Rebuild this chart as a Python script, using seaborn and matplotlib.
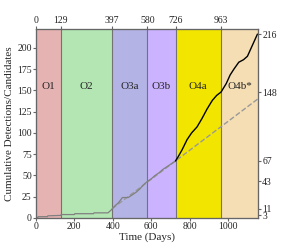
import matplotlib
matplotlib.use("Agg")
import matplotlib.pyplot as plt
import seaborn as sns
import pandas as pd
import numpy as np

sns.set_style("ticks")
plt.rcParams['font.family'] = ['Liberation Serif', 'DejaVu Serif']
plt.rcParams['mathtext.fontset'] = 'stix'

# observing runs
run_names = ["O1", "O2", "O3a", "O3b", "O4a", "O4b*"]
run_edges = [0, 129, 397, 580, 726, 963, 1155]
run_colors = ["#e6b3b3", "#b3e6b3", "#b3b3e6", "#cbb3ff", "#f2e600", "#f5deb3"]

# cumulative detections O1-O3 (grey)
early_days = [0, 10, 12, 60, 62, 129, 132, 200, 202, 300, 302, 375, 390, 410, 430,
              450, 465, 480, 500, 520, 540, 560, 580, 600, 620, 640, 660, 680, 700, 726]
early_counts = [0.5, 0.5, 1.5, 1.5, 2.5, 3, 4, 4, 5, 5, 6, 6, 9, 14, 18,
                24, 24, 24, 27, 30, 34, 39, 43, 46, 50, 53, 57, 60, 63, 67]

# cumulative candidates O4 (black)
late_days = [726, 740, 760, 786, 810, 838, 864, 890, 917, 940, 963,
             990, 1010, 1030, 1055, 1080, 1100, 1120, 1140, 1152]
late_counts = [67, 72, 80, 92, 100, 107, 117, 128, 138, 144, 148,
               158, 168, 175, 183, 186, 190, 200, 210, 216]

# linear extrapolation of O3 rate (dashed)
trend_days = [397, 726, 1155]
trend_counts = [11, 67, 140]

right_ticks = [3, 11, 43, 67, 148, 216]

fig, ax = plt.subplots(figsize=(2.87, 2.46), dpi=100)
fig.subplots_adjust(left=0.125, right=0.899, bottom=0.114, top=0.882)

for i, name in enumerate(run_names):
    ax.axvspan(run_edges[i], run_edges[i + 1], color=run_colors[i], lw=0)
    ax.text((run_edges[i] + run_edges[i + 1]) / 2, 155, name,
            ha='center', va='center', fontsize=8)
for e in run_edges[1:-1]:
    ax.axvline(e, color='0.45', lw=0.8)

sns.lineplot(x=trend_days, y=trend_counts, ax=ax, color='0.6', ls='--', lw=1)
sns.lineplot(x=early_days, y=early_counts, ax=ax, color='0.5', lw=0.9)
sns.lineplot(x=late_days, y=late_counts, ax=ax, color='black', lw=1)

ax.set_xlim(0, 1155)
ax.set_ylim(0, 222)
ax.set_yticks([0, 25, 50, 75, 100, 125, 150, 175, 200])
ax.set_xticks([0, 200, 400, 600, 800, 1000])
ax.set_xlabel("Time (Days)", fontsize=8, labelpad=1)
ax.set_ylabel("Cumulative Detections/Candidates", fontsize=8, labelpad=2)
ax.tick_params(labelsize=7, length=2, pad=1, color='0.4')

ax2 = ax.twinx()
ax2.set_ylim(ax.get_ylim())
ax2.set_yticks(right_ticks)
ax2.tick_params(labelsize=7, length=2, pad=1, color='0.4')

ax3 = ax.twiny()
ax3.set_xlim(ax.get_xlim())
ax3.set_xticks(run_edges[:-1])
ax3.tick_params(labelsize=7, length=2, pad=1, color='0.4')

for a in (ax, ax2, ax3):
    for s in a.spines.values():
        s.set_color('0.4')
        s.set_linewidth(0.8)

fig.savefig("out.png", dpi=100)
